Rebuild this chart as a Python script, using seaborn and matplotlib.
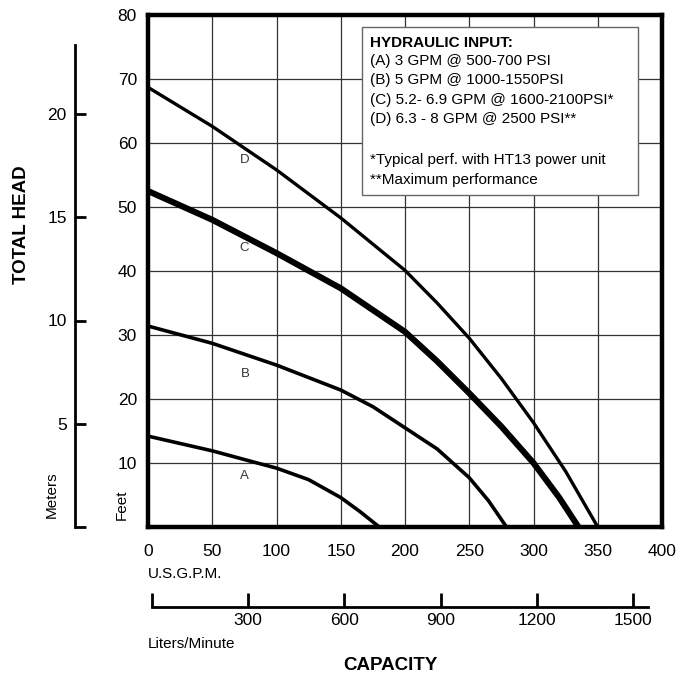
import matplotlib
matplotlib.use('Agg')
import matplotlib.pyplot as plt
import seaborn as sns
import pandas as pd
from matplotlib.patches import Rectangle

# curve data: capacity (US GPM) vs total head (feet)
a_gpm = [0, 50, 85, 100, 125, 150, 165, 180]
a_ft = [14.2, 11.9, 10.0, 9.2, 7.4, 4.6, 2.4, 0]
b_gpm = [0, 50, 100, 150, 175, 200, 225, 250, 265, 279]
b_ft = [31.4, 28.7, 25.3, 21.4, 18.8, 15.5, 12.2, 7.7, 4.1, 0]
c_gpm = [0, 50, 100, 150, 200, 225, 250, 275, 300, 320, 335]
c_ft = [52.5, 48.0, 42.8, 37.3, 30.5, 25.9, 20.9, 15.7, 10.0, 4.6, 0]
d_gpm = [0, 50, 100, 150, 200, 225, 250, 275, 300, 325, 350]
d_ft = [68.7, 62.6, 55.8, 48.3, 40.1, 35.0, 29.5, 23.2, 16.3, 8.7, 0]

curve_names = ['A', 'B', 'C', 'D']
gpm_ticks = [0, 50, 100, 150, 200, 250, 300, 350, 400]
feet_ticks = [10, 20, 30, 40, 50, 60, 70, 80]
meter_ticks = [0, 5, 10, 15, 20]
liter_ticks = [0, 300, 600, 900, 1200, 1500]

legend_title = "HYDRAULIC INPUT:"
legend_lines = ["(A) 3 GPM @ 500-700 PSI",
                "(B) 5 GPM @ 1000-1550PSI",
                "(C) 5.2- 6.9 GPM @ 1600-2100PSI*",
                "(D) 6.3 - 8 GPM @ 2500 PSI**"]
note_lines = ["*Typical perf. with HT13 power unit",
              "**Maximum performance"]

sns.set_style('white')
plt.rcParams['font.family'] = ['Liberation Sans', 'DejaVu Sans']
plt.rcParams['text.color'] = 'black'
plt.rcParams['xtick.color'] = 'black'
plt.rcParams['ytick.color'] = 'black'
plt.rcParams['axes.labelcolor'] = 'black'

W, H = 681, 676
fig = plt.figure(figsize=(W / 100, H / 100), dpi=100)


def box(x0, y0, x1, y1):
    # pixel box (top-left origin) -> figure fraction rect
    return [x0 / W, 1 - y1 / H, (x1 - x0) / W, (y1 - y0) / H]


def ftext(x, y, s, **kw):
    fig.text(x / W, 1 - y / H, s, **kw)


# main chart
ax = fig.add_axes(box(148, 15, 662, 527))
frames = []
for name, xs, ys in [('A', a_gpm, a_ft), ('B', b_gpm, b_ft),
                     ('C', c_gpm, c_ft), ('D', d_gpm, d_ft)]:
    frames.append(pd.DataFrame({'gpm': xs, 'ft': ys, 'curve': name}))
df = pd.concat(frames)

widths = {'A': 2.6, 'B': 2.6, 'C': 4.4, 'D': 2.4}
for name in curve_names:
    sub = df[df['curve'] == name]
    sns.lineplot(data=sub, x='gpm', y='ft', color='black', lw=widths[name],
                 ax=ax, legend=False, sort=False, zorder=3)

ax.set_xlim(0, 400)
ax.set_ylim(0, 80)
ax.set_xticks(gpm_ticks)
ax.set_yticks(feet_ticks)
ax.set_xticklabels([str(t) for t in gpm_ticks], fontsize=12.5)
ax.set_yticklabels([str(t) for t in feet_ticks], fontsize=12.5)
ax.tick_params(axis='x', length=0, pad=12)
ax.tick_params(axis='y', length=0, pad=8)
ax.set_xlabel('')
ax.set_ylabel('')
ax.grid(True, color='#333333', lw=0.9)
for sp in ax.spines.values():
    sp.set_linewidth(3.2)
    sp.set_color('black')
    sp.set_zorder(4)

# curve letters
label_pos = {'A': (75, 8.0), 'B': (76, 23.9), 'C': (75, 43.6), 'D': (75, 57.3)}
for name in curve_names:
    x, y = label_pos[name]
    ax.text(x, y, name, fontsize=9.5, color='#333333', ha='center', va='center',
            zorder=5)

# legend box
rect = Rectangle((362 / W, 1 - 195 / H), (638 - 362) / W, (195 - 27) / H,
                 transform=fig.transFigure, facecolor='white',
                 edgecolor='#666666', lw=1.0, zorder=10)
fig.add_artist(rect)
ftext(370, 43, legend_title, fontsize=11, fontweight='bold', va='center',
      zorder=11)
for i, line in enumerate(legend_lines):
    ftext(370, 61 + 19.4 * i, line, fontsize=11, va='center', zorder=11)
for i, line in enumerate(note_lines):
    ftext(370, 160 + 20 * i, line, fontsize=11, va='center', zorder=11)

# meters scale on the left
m_px = 20.65  # pixels per metre on that scale
axm = fig.add_axes(box(75, 15, 100, 527))
axm.set_facecolor('none')
axm.set_ylim(0, (527 - 15) / m_px)
axm.set_xlim(0, 1)
axm.set_yticks(meter_ticks)
axm.set_yticklabels(['' if t == 0 else str(t) for t in meter_ticks],
                    fontsize=12.5)
axm.set_xticks([])
for side in ['top', 'right', 'bottom']:
    axm.spines[side].set_visible(False)
axm.spines['left'].set_linewidth(2)
axm.spines['left'].set_color('black')
axm.spines['left'].set_bounds(0, (527 - 45) / m_px)
axm.tick_params(axis='y', left=True, direction='in', length=8, width=2,
                pad=6)

# liters/minute scale under the chart
l_px = 0.3207  # pixels per litre/minute on that scale
axl = fig.add_axes(box(152, 587, 648, 607))
axl.set_facecolor('none')
axl.set_xlim(0, (648 - 152) / l_px)
axl.set_ylim(0, 1)
axl.set_xticks(liter_ticks)
axl.set_xticklabels(['' if t == 0 else str(t) for t in liter_ticks],
                    fontsize=12.5)
axl.set_yticks([])
for side in ['top', 'right', 'left']:
    axl.spines[side].set_visible(False)
axl.spines['bottom'].set_linewidth(2)
axl.spines['bottom'].set_color('black')
axl.tick_params(axis='x', bottom=True, direction='in', length=10, width=2,
                pad=4)

# axis titles
ftext(22, 225, 'TOTAL HEAD', fontsize=13.5, fontweight='bold', rotation=90,
      ha='center', va='center')
ftext(52, 495, 'Meters', fontsize=11, rotation=90, ha='center', va='center')
ftext(122, 505, 'Feet', fontsize=11, rotation=90, ha='center', va='center')
ftext(148, 574, 'U.S.G.P.M.', fontsize=11, ha='left', va='center')
ftext(148, 644, 'Liters/Minute', fontsize=11, ha='left', va='center')
ftext(390, 665, 'CAPACITY', fontsize=13.5, fontweight='bold', ha='center',
      va='center')

fig.savefig('out.png', dpi=100)
plt.close(fig)
